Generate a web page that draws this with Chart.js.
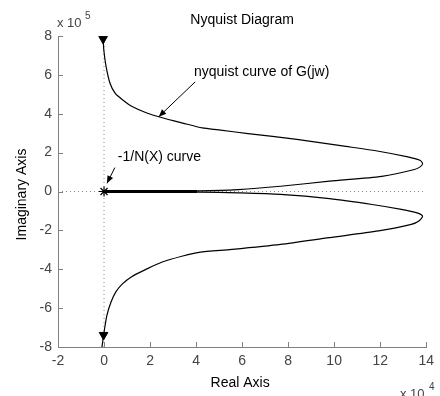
<!DOCTYPE html>
<html>
<head>
<meta charset="utf-8">
<script src="https://cdn.jsdelivr.net/npm/chart.js@4.4.1/dist/chart.umd.min.js"></script>
<style>
html, body { margin: 0; padding: 0; background: #fff; }
#wrap { width: 440px; height: 396px; }
</style>
</head>
<body>
<div id="wrap"><canvas id="nyquist"></canvas></div>
<script>
// real axis in units of 1e4, imaginary axis in units of 1e5
var xTicks = [-2, 0, 2, 4, 6, 8, 10, 12, 14]
var yTicks = [-8, -6, -4, -2, 0, 2, 4, 6, 8]

// upper branch of G(jw), from the top down to the origin
var upperRe = [-0.09, -0.04, -0.01, 0.09, 0.26, 0.48, 0.8, 1.22, 1.86, 2.57, 3.42, 4.27, 4.98, 6.26, 8.38, 10.51, 11.93, 13.2, 13.7, 13.84, 13.75, 13.49, 12.07, 9.8, 7.67, 5.83, 4.13, 2.0, 0]
var upperIm = [8.0, 7.85, 7.28, 6.43, 5.57, 5.06, 4.72, 4.37, 4.04, 3.78, 3.52, 3.27, 3.17, 2.98, 2.68, 2.32, 2.07, 1.78, 1.62, 1.45, 1.28, 1.13, 0.78, 0.53, 0.27, 0.1, 0.03, 0.01, 0]

// lower branch, from the origin down to the bottom
var lowerRe = [0, 2.0, 4.13, 5.83, 7.67, 9.8, 11.65, 12.92, 13.6, 13.84, 13.7, 13.35, 11.93, 9.8, 7.67, 5.55, 4.13, 3.42, 2.5, 1.8, 1.2, 0.8, 0.52, 0.3, 0.12, -0.01, -0.09]
var lowerIm = [0, -0.01, -0.03, -0.07, -0.15, -0.37, -0.67, -0.92, -1.1, -1.27, -1.5, -1.69, -2.03, -2.37, -2.72, -2.98, -3.13, -3.32, -3.64, -4.02, -4.38, -4.75, -5.15, -5.7, -6.4, -7.33, -8.0]

// -1/N(X) curve along the real axis
var nxRe = [0, 4.04]
var nxIm = [0, 0]

// direction arrows on the curve
var arrowRe = [-0.04, -0.02]
var arrowIm = [7.85, -7.38]

function pts(xs, ys) {
    return xs.map((x, i) => ({ x: x, y: ys[i] }))
}

var FONT = "'Liberation Sans', Arial, sans-serif"

var innerTicks = {
    id: "innerTicks",
    afterDraw: function (chart) {
        var ctx = chart.ctx, a = chart.chartArea
        var sx = chart.scales.x, sy = chart.scales.y
        ctx.save()
        ctx.strokeStyle = "#808080"
        ctx.lineWidth = 1
        ctx.beginPath()
        xTicks.forEach((t) => {
            var px = Math.round(sx.getPixelForValue(t)) + 0.5
            ctx.moveTo(px, a.bottom)
            ctx.lineTo(px, a.bottom - 5)
        })
        yTicks.forEach((t) => {
            var py = Math.round(sy.getPixelForValue(t)) + 0.5
            ctx.moveTo(a.left, py)
            ctx.lineTo(a.left + 5, py)
        })
        ctx.stroke()
        ctx.restore()
    }
}

function arrow(ctx, x1, y1, x2, y2) {
    var ang = Math.atan2(y2 - y1, x2 - x1)
    ctx.beginPath()
    ctx.moveTo(x1, y1)
    ctx.lineTo(x2, y2)
    ctx.stroke()
    ctx.beginPath()
    ctx.moveTo(x2, y2)
    ctx.lineTo(x2 - 8 * Math.cos(ang - 0.4), y2 - 8 * Math.sin(ang - 0.4))
    ctx.lineTo(x2 - 8 * Math.cos(ang + 0.4), y2 - 8 * Math.sin(ang + 0.4))
    ctx.closePath()
    ctx.fill()
}

var labels = {
    id: "labels",
    afterDraw: function (chart) {
        var ctx = chart.ctx, a = chart.chartArea
        var sx = chart.scales.x, sy = chart.scales.y
        var X = (v) => sx.getPixelForValue(v), Y = (v) => sy.getPixelForValue(v)
        ctx.save()
        ctx.fillStyle = "#000"
        ctx.strokeStyle = "#000"
        ctx.lineWidth = 1
        ctx.font = "14px " + FONT
        ctx.textBaseline = "middle"
        ctx.textAlign = "center"
        ctx.fillText("Nyquist Diagram", (a.left + a.right) / 2, 20)
        ctx.fillText("Real Axis", (a.left + a.right) / 2 - 2, 383)
        ctx.save()
        ctx.translate(22, (a.top + a.bottom) / 2 + 3)
        ctx.rotate(-Math.PI / 2)
        ctx.fillText("Imaginary Axis", 0, 0)
        ctx.restore()

        // exponents
        ctx.textAlign = "left"
        ctx.fillStyle = "#444"
        ctx.font = "13px " + FONT
        ctx.fillText("x 10", 57, 23)
        ctx.fillText("x 10", 400, 394)
        ctx.font = "10px " + FONT
        ctx.fillText("5", 85, 16)
        ctx.fillText("4", 429, 387)

        // annotations
        ctx.fillStyle = "#000"
        ctx.font = "14px " + FONT
        ctx.fillText("nyquist curve of G(jw)", X(3.91), Y(6.15))
        ctx.fillText("-1/N(X) curve", X(0.6), Y(1.79))
        arrow(ctx, X(3.96), Y(5.64), X(2.38), Y(3.85))
        arrow(ctx, X(0.47), Y(1.23), X(0.13), Y(0.42))
        ctx.restore()
    }
}

var line = (data, width) => ({
    data: data,
    showLine: true,
    borderColor: "#000",
    borderWidth: width,
    pointRadius: 0,
    tension: 0.25,
    fill: false,
})

new Chart(document.getElementById("nyquist").getContext("2d"), {
    type: "scatter",
    data: {
        datasets: [
            {
                data: pts(arrowRe, arrowIm),
                pointStyle: "triangle",
                rotation: 180,
                pointRadius: 5,
                backgroundColor: "#000",
                borderColor: "#000",
                borderWidth: 1,
            },
            {
                data: [{ x: 0, y: 0 }],
                pointStyle: "star",
                pointRadius: 5,
                borderColor: "#000",
                borderWidth: 1.2,
            },
            line(pts(nxRe, nxIm), 3),
            line(pts(upperRe, upperIm), 1.2),
            line(pts(lowerRe, lowerIm), 1.2),
            {
                data: [{ x: -2, y: 0 }, { x: 14, y: 0 }],
                showLine: true, borderColor: "#888", borderWidth: 1, borderDash: [1, 3], pointRadius: 0,
            },
            {
                data: [{ x: 0, y: -8 }, { x: 0, y: 8 }],
                showLine: true, borderColor: "#888", borderWidth: 1, borderDash: [1, 3], pointRadius: 0,
            },
        ],
    },
    options: {
        responsive: true,
        maintainAspectRatio: false,
        animation: false,
        layout: { padding: { top: 36, right: 7, left: 0, bottom: 0 } },
        plugins: { legend: { display: false }, tooltip: { enabled: false } },
        scales: {
            x: {
                type: "linear",
                min: -2,
                max: 14,
                afterBuildTicks: (s) => { s.ticks = xTicks.map((v) => ({ value: v })) },
                afterFit: (s) => { s.height = 49 },
                grid: { color: "rgba(0,0,0,0)", drawTicks: false, drawOnChartArea: false },
                border: { display: true, color: "#808080", width: 1 },
                ticks: { color: "#444", font: { size: 14, family: FONT }, padding: 6, maxRotation: 0 },
            },
            y: {
                type: "linear",
                min: -8,
                max: 8,
                afterBuildTicks: (s) => { s.ticks = yTicks.map((v) => ({ value: v })) },
                afterFit: (s) => { s.width = 58 },
                grid: { color: "rgba(0,0,0,0)", drawTicks: false, drawOnChartArea: false },
                border: { display: true, color: "#808080", width: 1 },
                ticks: { color: "#444", font: { size: 14, family: FONT }, padding: 6 },
            },
        },
    },
    plugins: [innerTicks, labels],
})
</script>
</body>
</html>
